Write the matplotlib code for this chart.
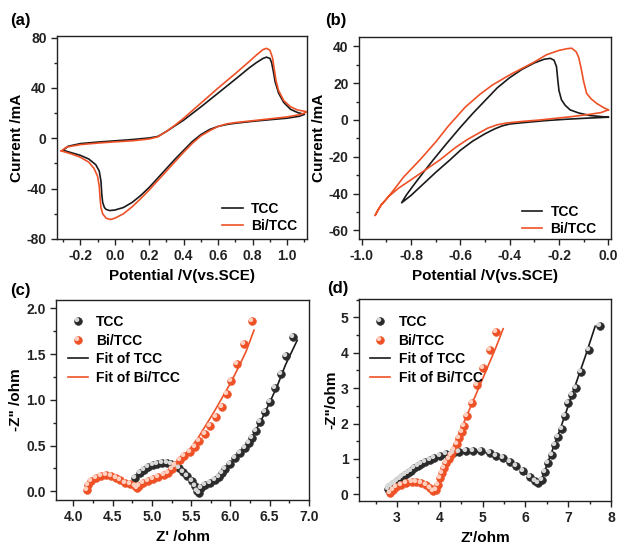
import matplotlib
matplotlib.use("Agg")
import matplotlib.pyplot as plt
from matplotlib.path import Path
from matplotlib.ticker import MultipleLocator, FormatStrFormatter
import numpy as np

plt.rcParams['font.family'] = ['Liberation Sans', 'DejaVu Sans']
plt.rcParams['font.weight'] = 'bold'
plt.rcParams['axes.labelweight'] = 'bold'
plt.rcParams['axes.unicode_minus'] = False

BLACK = '#1a1a1a'
ORANGE = '#ef5127'

# ---- (a) CV, positive window ----
cv_a_tcc_v = [-0.30, -0.27, -0.20, -0.10, 0.00, 0.10, 0.20, 0.25, 0.30, 0.35, 0.40, 0.50, 0.60, 0.70,
              0.78, 0.82, 0.86, 0.88, 0.90, 0.91, 0.92, 0.93, 0.95, 0.98, 1.02, 1.06, 1.10,
              1.07, 1.00, 0.90, 0.80, 0.70, 0.65, 0.60, 0.55, 0.50, 0.45, 0.40, 0.35, 0.30, 0.25,
              0.20, 0.15, 0.10, 0.05, 0.00, -0.03, -0.05, -0.06, -0.07, -0.075, -0.08, -0.09,
              -0.11, -0.15, -0.20, -0.25, -0.30]
cv_a_tcc_i = [-9.5, -6.3, -4.2, -3.0, -2.0, -1.0, 0.3, 1.5, 5.5, 10.0, 14.5, 25.0, 36.0, 47.0,
              56.0, 60.0, 63.5, 64.5, 63.5, 60.0, 53.0, 45.0, 36.0, 28.5, 23.0, 20.5, 19.0,
              17.5, 16.0, 14.8, 13.5, 12.0, 11.0, 9.5, 7.0, 3.0, -2.5, -9.5, -16.5, -24.0, -31.5,
              -39.0, -45.5, -51.0, -55.0, -57.0, -57.4, -56.5, -55.0, -51.0, -45.0, -34.0, -26.0,
              -21.0, -16.5, -13.5, -11.5, -9.5]

cv_a_bi_v = [-0.31, -0.28, -0.20, -0.10, 0.00, 0.10, 0.20, 0.25, 0.30, 0.35, 0.40, 0.50, 0.60, 0.70,
             0.78, 0.82, 0.86, 0.88, 0.90, 0.915, 0.925, 0.935, 0.95, 0.98, 1.02, 1.06, 1.10, 1.115,
             1.08, 1.00, 0.90, 0.80, 0.70, 0.65, 0.60, 0.55, 0.50, 0.45, 0.40, 0.35, 0.30, 0.25,
             0.20, 0.15, 0.10, 0.05, 0.00, -0.025, -0.05, -0.07, -0.08, -0.085, -0.09, -0.10,
             -0.12, -0.15, -0.20, -0.25, -0.31]
cv_a_bi_i = [-10.0, -7.0, -5.0, -3.8, -2.8, -2.0, -0.5, 1.2, 5.5, 10.5, 16.0, 28.0, 40.0, 51.5,
             61.0, 66.0, 70.5, 71.5, 70.0, 64.0, 55.0, 46.0, 38.0, 30.0, 25.0, 22.5, 21.5, 21.0,
             19.0, 17.0, 15.5, 14.0, 12.5, 11.5, 9.5, 6.0, 2.0, -4.0, -11.0, -18.5, -26.0, -33.5,
             -41.0, -48.0, -54.5, -60.0, -63.5, -64.5, -63.5, -60.0, -55.0, -48.0, -38.0, -30.0,
             -24.0, -19.0, -15.0, -12.5, -10.0]

# ---- (b) CV, negative window ----
cv_b_tcc_v = [0.00, -0.05, -0.10, -0.17, -0.25, -0.30, -0.35, -0.40, -0.43, -0.46, -0.50, -0.55, -0.60,
              -0.642, -0.70, -0.76, -0.80, -0.838,
              -0.82, -0.79, -0.75, -0.71, -0.66, -0.60, -0.55, -0.50, -0.45, -0.40, -0.35, -0.30,
              -0.26, -0.235, -0.22, -0.21, -0.205, -0.20, -0.19, -0.175, -0.155, -0.12, -0.074, -0.04, 0.00]
cv_b_tcc_i = [1.5, 1.2, 0.9, 0.4, -0.3, -0.9, -1.5, -2.2, -3.2, -4.8, -7.5, -11.5, -16.5,
              -21.7, -28.5, -36.0, -41.0, -45.0,
              -41.0, -35.5, -28.5, -21.7, -13.5, -4.0, 3.5, 10.5, 17.5, 23.0, 27.5, 31.0,
              33.0, 33.5, 32.5, 29.0, 22.0, 16.0, 11.0, 8.0, 5.5, 3.8, 2.4, 2.0, 1.5]

cv_b_bi_v = [0.00, -0.03, -0.074, -0.15, -0.277, -0.35, -0.41, -0.45, -0.49, -0.53, -0.57, -0.62,
             -0.683, -0.74, -0.80, -0.85, -0.89, -0.92, -0.946,
             -0.935, -0.92, -0.90, -0.87, -0.83, -0.764, -0.70, -0.65, -0.58, -0.52, -0.47,
             -0.40, -0.35, -0.30, -0.25, -0.20, -0.165, -0.148, -0.13, -0.12, -0.11, -0.10,
             -0.088, -0.07, -0.047, -0.02, 0.00]
cv_b_bi_i = [5.5, 4.0, 3.1, 1.8, 0.0, -0.8, -1.6, -2.6, -4.5, -7.5, -10.5, -15.0,
             -21.7, -27.0, -32.5, -37.0, -41.5, -46.0, -52.0,
             -49.0, -46.0, -43.0, -38.0, -31.0, -21.7, -12.0, -3.5, 7.0, 14.0, 19.0,
             24.5, 28.0, 31.5, 35.5, 37.8, 38.8, 39.0, 37.0, 34.0, 28.0, 21.0,
             14.5, 11.5, 9.0, 6.8, 5.5]

# ---- (c) EIS ----
eis_c_tcc_re = [4.79, 4.85, 4.90, 4.955, 5.01, 5.07, 5.13, 5.19, 5.24, 5.30, 5.35, 5.40, 5.45, 5.51,
                5.55, 5.58, 5.60, 5.63, 5.68, 5.74, 5.80, 5.85, 5.89, 5.93, 6.00, 6.06, 6.12, 6.19,
                6.23, 6.28, 6.32, 6.38, 6.44, 6.50, 6.57, 6.64, 6.71, 6.79]
eis_c_tcc_im = [0.142, 0.197, 0.233, 0.262, 0.284, 0.299, 0.306, 0.306, 0.299, 0.280, 0.255, 0.215,
                0.168, 0.113, 0.058, 0.007, -0.015, 0.033, 0.069, 0.095, 0.124, 0.153, 0.197, 0.240,
                0.300, 0.360, 0.415, 0.470, 0.525, 0.580, 0.660, 0.760, 0.870, 0.980, 1.125, 1.280,
                1.480, 1.690]
fit_c_tcc_re = [4.80, 4.90, 5.00, 5.10, 5.20, 5.30, 5.40, 5.50, 5.58, 5.60, 5.65, 5.70, 5.80, 5.90,
                6.00, 6.10, 6.20, 6.30, 6.40, 6.50, 6.60, 6.70, 6.85]
fit_c_tcc_im = [0.140, 0.235, 0.283, 0.303, 0.303, 0.280, 0.215, 0.120, 0.020, 0.000, 0.050, 0.080,
                0.125, 0.200, 0.290, 0.390, 0.500, 0.630, 0.790, 0.970, 1.160, 1.380, 1.650]

eis_c_bi_re = [4.17, 4.19, 4.23, 4.29, 4.35, 4.42, 4.48, 4.54, 4.60, 4.66, 4.72, 4.78, 4.81, 4.84,
               4.89, 4.955, 5.02, 5.08, 5.15, 5.20, 5.25, 5.30, 5.36, 5.41, 5.49, 5.55, 5.60, 5.67,
               5.74, 5.82, 5.89, 5.95, 6.01, 6.08, 6.17, 6.27]
eis_c_bi_im = [0.010, 0.069, 0.117, 0.149, 0.168, 0.175, 0.168, 0.149, 0.124, 0.095, 0.077, 0.058,
               0.033, 0.058, 0.087, 0.109, 0.131, 0.153, 0.175, 0.204, 0.240, 0.288, 0.342, 0.386,
               0.434, 0.488, 0.550, 0.627, 0.714, 0.816, 0.925, 1.060, 1.210, 1.390, 1.610, 1.860]
fit_c_bi_re = [4.17, 4.20, 4.25, 4.30, 4.40, 4.50, 4.60, 4.70, 4.78, 4.80, 4.85, 5.00, 5.10, 5.20,
               5.30, 5.40, 5.50, 5.60, 5.70, 5.80, 5.90, 6.00, 6.10, 6.20, 6.30]
fit_c_bi_im = [0.000, 0.080, 0.130, 0.155, 0.175, 0.165, 0.125, 0.085, 0.060, 0.050, 0.060, 0.120,
               0.160, 0.200, 0.280, 0.380, 0.480, 0.600, 0.740, 0.880, 1.030, 1.180, 1.350, 1.530, 1.760]

# ---- (d) EIS ----
eis_d_tcc_re = [2.78, 2.82, 2.86, 2.90, 2.95, 3.00, 3.06, 3.12, 3.18, 3.25, 3.32, 3.40, 3.48, 3.57,
                3.66, 3.76, 3.87, 4.00, 4.15, 4.30, 4.45, 4.60, 4.78, 4.97, 5.17, 5.32, 5.48, 5.64,
                5.79, 5.95, 6.10, 6.22, 6.30, 6.38, 6.46, 6.53, 6.63, 6.69, 6.77, 6.85, 6.92, 7.00,
                7.08, 7.18, 7.31, 7.49, 7.74]
eis_d_tcc_im = [0.15, 0.20, 0.24, 0.28, 0.33, 0.37, 0.42, 0.49, 0.55, 0.61, 0.67, 0.73, 0.79, 0.85,
                0.90, 0.96, 1.02, 1.08, 1.13, 1.17, 1.20, 1.21, 1.23, 1.21, 1.16, 1.09, 1.02, 0.92,
                0.80, 0.66, 0.50, 0.38, 0.33, 0.41, 0.64, 0.88, 1.11, 1.40, 1.63, 1.84, 2.20, 2.58,
                2.81, 3.00, 3.47, 4.08, 4.75]
fit_d_tcc_re = [2.77, 2.90, 3.10, 3.30, 3.50, 3.75, 4.00, 4.30, 4.60, 4.90, 5.20, 5.50, 5.80, 6.00,
                6.15, 6.25, 6.30, 6.35, 6.45, 6.60, 6.80, 7.00, 7.20, 7.40, 7.63]
fit_d_tcc_im = [0.08, 0.25, 0.47, 0.66, 0.81, 0.95, 1.07, 1.16, 1.21, 1.21, 1.15, 1.02, 0.80, 0.60,
                0.45, 0.35, 0.32, 0.36, 0.65, 1.15, 1.80, 2.50, 3.20, 3.90, 4.75]

eis_d_bi_re = [2.83, 2.91, 2.98, 3.10, 3.22, 3.34, 3.45, 3.57, 3.67, 3.76, 3.84, 3.90, 3.96, 4.00,
               4.04, 4.09, 4.15, 4.22, 4.27, 4.33, 4.39, 4.45, 4.51, 4.56, 4.64, 4.74, 4.87, 5.01,
               5.17, 5.32]
eis_d_bi_im = [0.03, 0.12, 0.20, 0.26, 0.31, 0.34, 0.35, 0.33, 0.26, 0.17, 0.10, 0.12, 0.26, 0.45,
               0.59, 0.74, 0.88, 0.99, 1.11, 1.25, 1.42, 1.58, 1.75, 1.92, 2.20, 2.58, 3.09, 3.57,
               4.08, 4.58]
fit_d_bi_re = [2.83, 2.90, 3.00, 3.15, 3.30, 3.45, 3.60, 3.70, 3.80, 3.85, 3.90, 3.95, 4.00, 4.10,
               4.30, 4.50, 4.70, 4.90, 5.10, 5.30, 5.48]
fit_d_bi_im = [0.00, 0.10, 0.20, 0.29, 0.34, 0.35, 0.31, 0.23, 0.12, 0.09, 0.13, 0.27, 0.45, 0.75,
               1.30, 1.86, 2.42, 2.98, 3.55, 4.12, 4.68]

# small offset circle used as a glossy highlight on the round markers
_c = Path.unit_circle()
shine = Path(_c.vertices * 0.32 + np.array([-0.22, 0.24]), _c.codes)
SHINE_SCALE = 0.56


def style_axes(ax):
    for s in ax.spines.values():
        s.set_linewidth(1.0)
        s.set_color('#222222')
    ax.tick_params(which='both', direction='out', top=False, right=False,
                   width=1.0, colors='#222222', labelsize=10)
    ax.tick_params(which='major', length=4)
    ax.tick_params(which='minor', length=2.2)
    for lab in ax.get_xticklabels() + ax.get_yticklabels():
        lab.set_fontweight('bold')


def spheres(ax, x, y, color, light, ms=5.6):
    base, = ax.plot(x, y, 'o', ms=ms, mfc=color, mec=color, mew=0.4, ls='none', zorder=3)
    hl, = ax.plot(x, y, marker=shine, ms=ms * SHINE_SCALE / 0.54, mfc=light, mec='none',
                  ls='none', zorder=4)
    return base, hl


fig = plt.figure(figsize=(6.17, 5.46), dpi=100)
W, H = 617.0, 546.0


def px_axes(l, t, r, b):
    return fig.add_axes([l / W, 1 - b / H, (r - l) / W, (b - t) / H])


ax_a = px_axes(57, 36, 307, 239)
ax_b = px_axes(359, 37, 611, 239)
ax_c = px_axes(56, 300, 309, 500)
ax_d = px_axes(359, 299, 611, 501)

leg_kw = dict(frameon=False, fontsize=10, handlelength=1.45, handletextpad=0.6,
              labelspacing=0.2, borderpad=0, borderaxespad=0)
leg_eis = dict(leg_kw, labelspacing=0.33)

# (a)
ax_a.plot(cv_a_tcc_v, cv_a_tcc_i, color=BLACK, lw=1.2, label='TCC')
ax_a.plot(cv_a_bi_v, cv_a_bi_i, color=ORANGE, lw=1.2, label='Bi/TCC')
ax_a.set_xlim(-0.335, 1.115)
ax_a.set_ylim(-80, 81.3)
ax_a.xaxis.set_major_locator(MultipleLocator(0.2))
ax_a.xaxis.set_minor_locator(MultipleLocator(0.1))
ax_a.yaxis.set_major_locator(MultipleLocator(40))
ax_a.yaxis.set_minor_locator(MultipleLocator(20))
ax_a.xaxis.set_major_formatter(FormatStrFormatter('%.1f'))
ax_a.set_xlabel('Potential /V(vs.SCE)', fontsize=11)
ax_a.set_ylabel('Current /mA', fontsize=11, labelpad=2)
ax_a.legend(loc='lower right', bbox_to_anchor=(0.96, 0.03), **leg_kw)
style_axes(ax_a)

# (b)
ax_b.plot(cv_b_tcc_v, cv_b_tcc_i, color=BLACK, lw=1.2, label='TCC')
ax_b.plot(cv_b_bi_v, cv_b_bi_i, color=ORANGE, lw=1.2, label='Bi/TCC')
ax_b.set_xlim(-1.011, 0.011)
ax_b.set_ylim(-64.7, 45.1)
ax_b.xaxis.set_major_locator(MultipleLocator(0.2))
ax_b.xaxis.set_minor_locator(MultipleLocator(0.1))
ax_b.yaxis.set_major_locator(MultipleLocator(20))
ax_b.yaxis.set_minor_locator(MultipleLocator(10))
ax_b.xaxis.set_major_formatter(FormatStrFormatter('%.1f'))
ax_b.set_xlabel('Potential /V(vs.SCE)', fontsize=11)
ax_b.set_ylabel('Current /mA', fontsize=11, labelpad=2)
ax_b.legend(loc='lower right', bbox_to_anchor=(0.943, 0.015), **leg_kw)
style_axes(ax_b)

# (c)
h1 = spheres(ax_c, eis_c_tcc_re, eis_c_tcc_im, '#2b2b2b', '#d8d8d8')
h2 = spheres(ax_c, eis_c_bi_re, eis_c_bi_im, ORANGE, '#ffd0c0')
f1, = ax_c.plot(fit_c_tcc_re, fit_c_tcc_im, color=BLACK, lw=1.2, zorder=2)
f2, = ax_c.plot(fit_c_bi_re, fit_c_bi_im, color=ORANGE, lw=1.2, zorder=2)
ax_c.set_xlim(3.78, 7.0)
ax_c.set_ylim(-0.095, 2.09)
ax_c.xaxis.set_major_locator(MultipleLocator(0.5))
ax_c.xaxis.set_minor_locator(MultipleLocator(0.25))
ax_c.yaxis.set_major_locator(MultipleLocator(0.5))
ax_c.yaxis.set_minor_locator(MultipleLocator(0.25))
ax_c.xaxis.set_major_formatter(FormatStrFormatter('%.1f'))
ax_c.yaxis.set_major_formatter(FormatStrFormatter('%.1f'))
ax_c.set_xlabel("Z' /ohm", fontsize=11, labelpad=4)
ax_c.set_ylabel('-Z" /ohm', fontsize=11, labelpad=2)
ax_c.legend([h1, h2, f1, f2], ['TCC', 'Bi/TCC', 'Fit of TCC', 'Fit of Bi/TCC'],
            loc='upper left', bbox_to_anchor=(0.047, 0.925), **leg_eis)
style_axes(ax_c)

# (d)
h1 = spheres(ax_d, eis_d_tcc_re, eis_d_tcc_im, '#2b2b2b', '#d8d8d8')
h2 = spheres(ax_d, eis_d_bi_re, eis_d_bi_im, ORANGE, '#ffd0c0')
f1, = ax_d.plot(fit_d_tcc_re, fit_d_tcc_im, color=BLACK, lw=1.2, zorder=2)
f2, = ax_d.plot(fit_d_bi_re, fit_d_bi_im, color=ORANGE, lw=1.2, zorder=2)
ax_d.set_xlim(2.11, 8.0)
ax_d.set_ylim(-0.19, 5.52)
ax_d.xaxis.set_major_locator(MultipleLocator(1))
ax_d.xaxis.set_minor_locator(MultipleLocator(0.5))
ax_d.yaxis.set_major_locator(MultipleLocator(1))
ax_d.yaxis.set_minor_locator(MultipleLocator(0.5))
ax_d.set_xlabel("Z'/ohm", fontsize=11, labelpad=4)
ax_d.set_ylabel('-Z"/ohm', fontsize=11, labelpad=2)
ax_d.legend([h1, h2, f1, f2], ['TCC', 'Bi/TCC', 'Fit of TCC', 'Fit of Bi/TCC'],
            loc='upper left', bbox_to_anchor=(0.044, 0.92), **leg_eis)
style_axes(ax_d)

for txt, x, y in [('(a)', 10, 21), ('(b)', 325, 21), ('(c)', 10, 290), ('(d)', 327, 289)]:
    fig.text(x / W, 1 - y / H, txt, fontsize=12, fontweight='bold', va='center', ha='left')

fig.savefig('out.png', dpi=100)
